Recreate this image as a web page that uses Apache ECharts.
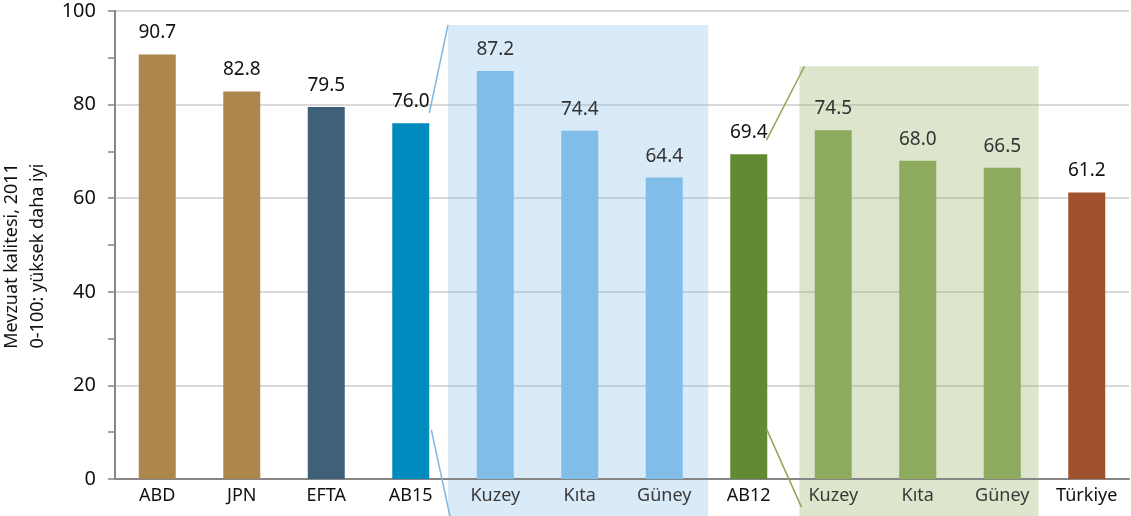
<!DOCTYPE html>
<html>
<head>
<meta charset="utf-8">
<script src="https://cdn.jsdelivr.net/npm/echarts@6/dist/echarts.min.js"></script>
<style>
  html, body { margin: 0; padding: 0; background: #fff; }
  #chart { width: 1131px; height: 516px; }
</style>
</head>
<body>
<div id="chart"></div>
<script>
// data
var categories = ["ABD", "JPN", "EFTA", "AB15", "Kuzey", "Kıta", "Güney", "AB12", "Kuzey", "Kıta", "Güney", "Türkiye"];
var values = [90.7, 82.8, 79.5, 76.0, 87.2, 74.4, 64.4, 69.4, 74.5, 68.0, 66.5, 61.2];
var yTicks = [0, 20, 40, 60, 80, 100];

// styles
var barColors = ["#ac864c", "#ac864c", "#3e6079", "#008bbe", "#80bde9", "#80bde9", "#80bde9",
  "#628a32", "#8daa5e", "#8daa5e", "#8daa5e", "#a0522d"];
var inBox = [false, false, false, false, true, true, true, false, true, true, true, false];
var fontFam = "Noto Sans";

var chartDom = document.getElementById("chart");
var myChart = echarts.init(chartDom);

var option = {
  animation: false,
  backgroundColor: "#fff",
  grid: {
    left: 115,
    right: 2,
    top: 11,
    bottom: 37,
    containLabel: false,
    outerBoundsMode: "none",
  },
  xAxis: {
    type: "category",
    data: categories,
    axisLine: {
      lineStyle: { color: "#868686", width: 2 },
    },
    axisTick: { show: false },
    axisLabel: {
      fontFamily: fontFam,
      fontSize: 18,
      margin: 8,
      color: function (value, index) {
        return inBox[index] ? "#3a3a3a" : "#111";
      },
    },
    z: 3,
  },
  yAxis: {
    type: "value",
    min: yTicks[0],
    max: yTicks[yTicks.length - 1],
    interval: yTicks[1] - yTicks[0],
    name: "Mevzuat kalitesi, 2011\n0-100: yüksek daha iyi",
    nameLocation: "middle",
    nameRotate: 90,
    nameGap: 51,
    nameTextStyle: {
      fontFamily: fontFam,
      fontSize: 18,
      color: "#111",
      lineHeight: 26,
      padding: [0, 22, 0, 0],
    },
    axisLine: {
      show: true,
      lineStyle: { color: "#868686", width: 2 },
    },
    axisTick: {
      show: true,
      length: 7,
      lineStyle: { color: "#868686", width: 1.5 },
    },
    minorTick: {
      show: true,
      splitNumber: 2,
      length: 7,
      lineStyle: { color: "#868686", width: 1.5 },
    },
    axisLabel: {
      fontFamily: fontFam,
      fontSize: 20,
      color: "#111",
      margin: 19,
    },
    splitLine: {
      lineStyle: { color: "#d9d9d9", width: 2 },
    },
  },
  series: [
    {
      type: "bar",
      barWidth: 37,
      z: 4,
      data: values.map(function (v, i) {
        return {
          value: v,
          itemStyle: { color: barColors[i] },
          label: { color: inBox[i] ? "#333" : "#111" },
        };
      }),
      label: {
        show: true,
        position: "top",
        distance: 12,
        fontFamily: fontFam,
        fontSize: 19,
        formatter: function (p) {
          return p.value.toFixed(1);
        },
      },
    },
  ],
};
myChart.setOption(option);

// highlight boxes and connector lines, placed through the axes
function px(idx, val) {
  return myChart.convertToPixel({ gridIndex: 0 }, [idx, val]);
}
var step = px(1, 0)[0] - px(0, 0)[0];
var H = myChart.getHeight();

var blueL = px(4, 0)[0] - 0.56 * step;
var blueR = px(6, 0)[0] + 0.52 * step;
var blueT = px(4, 97)[1];
var greenL = px(8, 0)[0] - 0.40 * step;
var greenR = px(10, 0)[0] + 0.43 * step;
var greenT = px(8, 88.2)[1];

var ab15x = px(3, 0)[0] + 0.22 * step;
var ab12x = px(7, 0)[0] + 0.21 * step;

myChart.setOption({
  graphic: [
    {
      type: "rect",
      z: 3,
      shape: { x: blueL, y: blueT, width: blueR - blueL, height: H - blueT },
      style: { fill: "rgba(130,185,235,0.3)" },
    },
    {
      type: "rect",
      z: 3,
      shape: { x: greenL, y: greenT, width: greenR - greenL, height: H - greenT },
      style: { fill: "rgba(158,181,109,0.35)" },
    },
    {
      type: "line",
      z: 5,
      shape: { x1: ab15x, y1: px(3, 78.2)[1], x2: blueL, y2: blueT },
      style: { stroke: "#7db8e5", lineWidth: 1.5 },
    },
    {
      type: "line",
      z: 5,
      shape: { x1: ab15x + 2, y1: px(3, 10.5)[1], x2: blueL + 2, y2: H },
      style: { stroke: "#7db8e5", lineWidth: 1.5 },
    },
    {
      type: "line",
      z: 5,
      shape: { x1: ab12x, y1: px(7, 72.4)[1], x2: greenL + 0.06 * step, y2: greenT },
      style: { stroke: "#8aa85a", lineWidth: 1.5 },
    },
    {
      type: "line",
      z: 5,
      shape: { x1: ab12x, y1: px(7, 10.7)[1], x2: greenL + 2, y2: px(7, -6)[1] },
      style: { stroke: "#8aa85a", lineWidth: 1.5 },
    },
  ],
});
</script>
</body>
</html>
